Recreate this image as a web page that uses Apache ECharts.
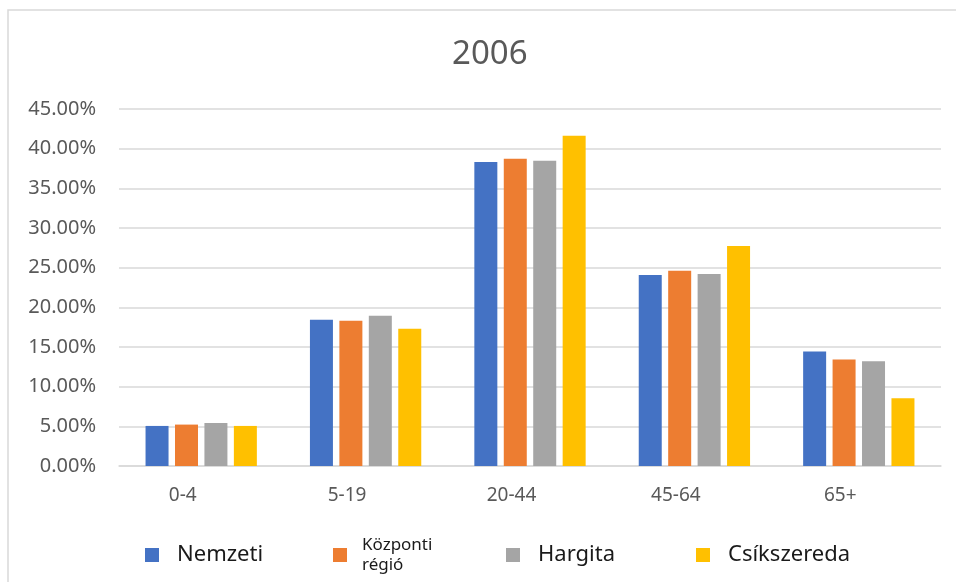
<!DOCTYPE html>
<html>
<head>
<meta charset="utf-8">
<script src="https://cdn.jsdelivr.net/npm/echarts@6/dist/echarts.min.js"></script>
<style>
  html, body { margin: 0; padding: 0; background: #fff; }
  #chart { width: 956px; height: 582px; }
</style>
</head>
<body>
<div id="chart"></div>
<script>
// korcsoportok
var ageGroups = ['0-4', '5-19', '20-44', '45-64', '65+'];
// series values (%)
var nemzeti = [5.05, 18.42, 38.32, 24.06, 14.43];
var kozponti = [5.22, 18.30, 38.74, 24.60, 13.42];
var hargita = [5.43, 18.93, 38.48, 24.19, 13.21];
var csikszereda = [5.05, 17.29, 41.64, 27.72, 8.54];

var seriesNames = ['Nemzeti', 'Központi régió', 'Hargita', 'Csíkszereda'];
var seriesColors = ['#4472C4', '#ED7D31', '#A5A5A5', '#FFC000'];
var seriesData = [nemzeti, kozponti, hargita, csikszereda];

var font = 'Noto Sans';

// one legend per item so each sits where Excel put it
var legendLeft = [140, 328, 501, 691];
var legends = seriesNames.map(function (name, i) {
    var isTwoLine = name === 'Központi régió';
    return {
        data: [name],
        left: legendLeft[i],
        top: isTwoLine ? 530 : 536,
        icon: 'rect',
        itemWidth: 14,
        itemHeight: 14,
        selectedMode: false,
        formatter: function (n) {
            return n === 'Központi régió' ? 'Központi\nrégió' : n;
        },
        textStyle: {
            fontFamily: font,
            fontSize: isTwoLine ? 17 : 22,
            lineHeight: isTwoLine ? 20 : 28,
            color: '#1a1a1a',
            padding: [0, 0, 0, isTwoLine ? 10 : 13]
        }
    };
});

var chart = echarts.init(document.getElementById('chart'));
var option = {
    animation: false,
    backgroundColor: '#fff',
    title: {
        text: '2006',
        left: 447,
        top: 33,
        textStyle: {
            fontFamily: font,
            fontSize: 33,
            fontWeight: 'normal',
            color: '#595959'
        }
    },
    graphic: [{
        type: 'rect',
        shape: { x: 8, y: 10, width: 1000, height: 700 },
        style: { fill: 'none', stroke: '#d9d9d9', lineWidth: 1.5 },
        silent: true
    }],
    legend: legends,
    grid: {
        left: 119,
        right: 15,
        top: 109,
        bottom: 116
    },
    xAxis: {
        type: 'category',
        data: ageGroups,
        axisLine: { lineStyle: { color: '#d9d9d9', width: 1.5 } },
        axisTick: { show: false },
        axisLabel: {
            fontFamily: font,
            fontSize: 19,
            color: '#595959',
            margin: 20,
            padding: [0, 37, 0, 0]
        }
    },
    yAxis: {
        type: 'value',
        min: 0,
        max: 45,
        interval: 5,
        axisLine: { show: false },
        axisTick: { show: false },
        splitLine: { lineStyle: { color: '#d9d9d9', width: 1.5 } },
        axisLabel: {
            fontFamily: font,
            fontSize: 20,
            color: '#595959',
            margin: 23,
            formatter: function (v) {
                return v.toFixed(2) + '%';
            }
        }
    },
    series: seriesNames.map(function (name, i) {
        return {
            name: name,
            type: 'bar',
            data: seriesData[i],
            barWidth: 23,
            barGap: '28%',
            itemStyle: { color: seriesColors[i] }
        };
    })
};
chart.setOption(option);
</script>
</body>
</html>
